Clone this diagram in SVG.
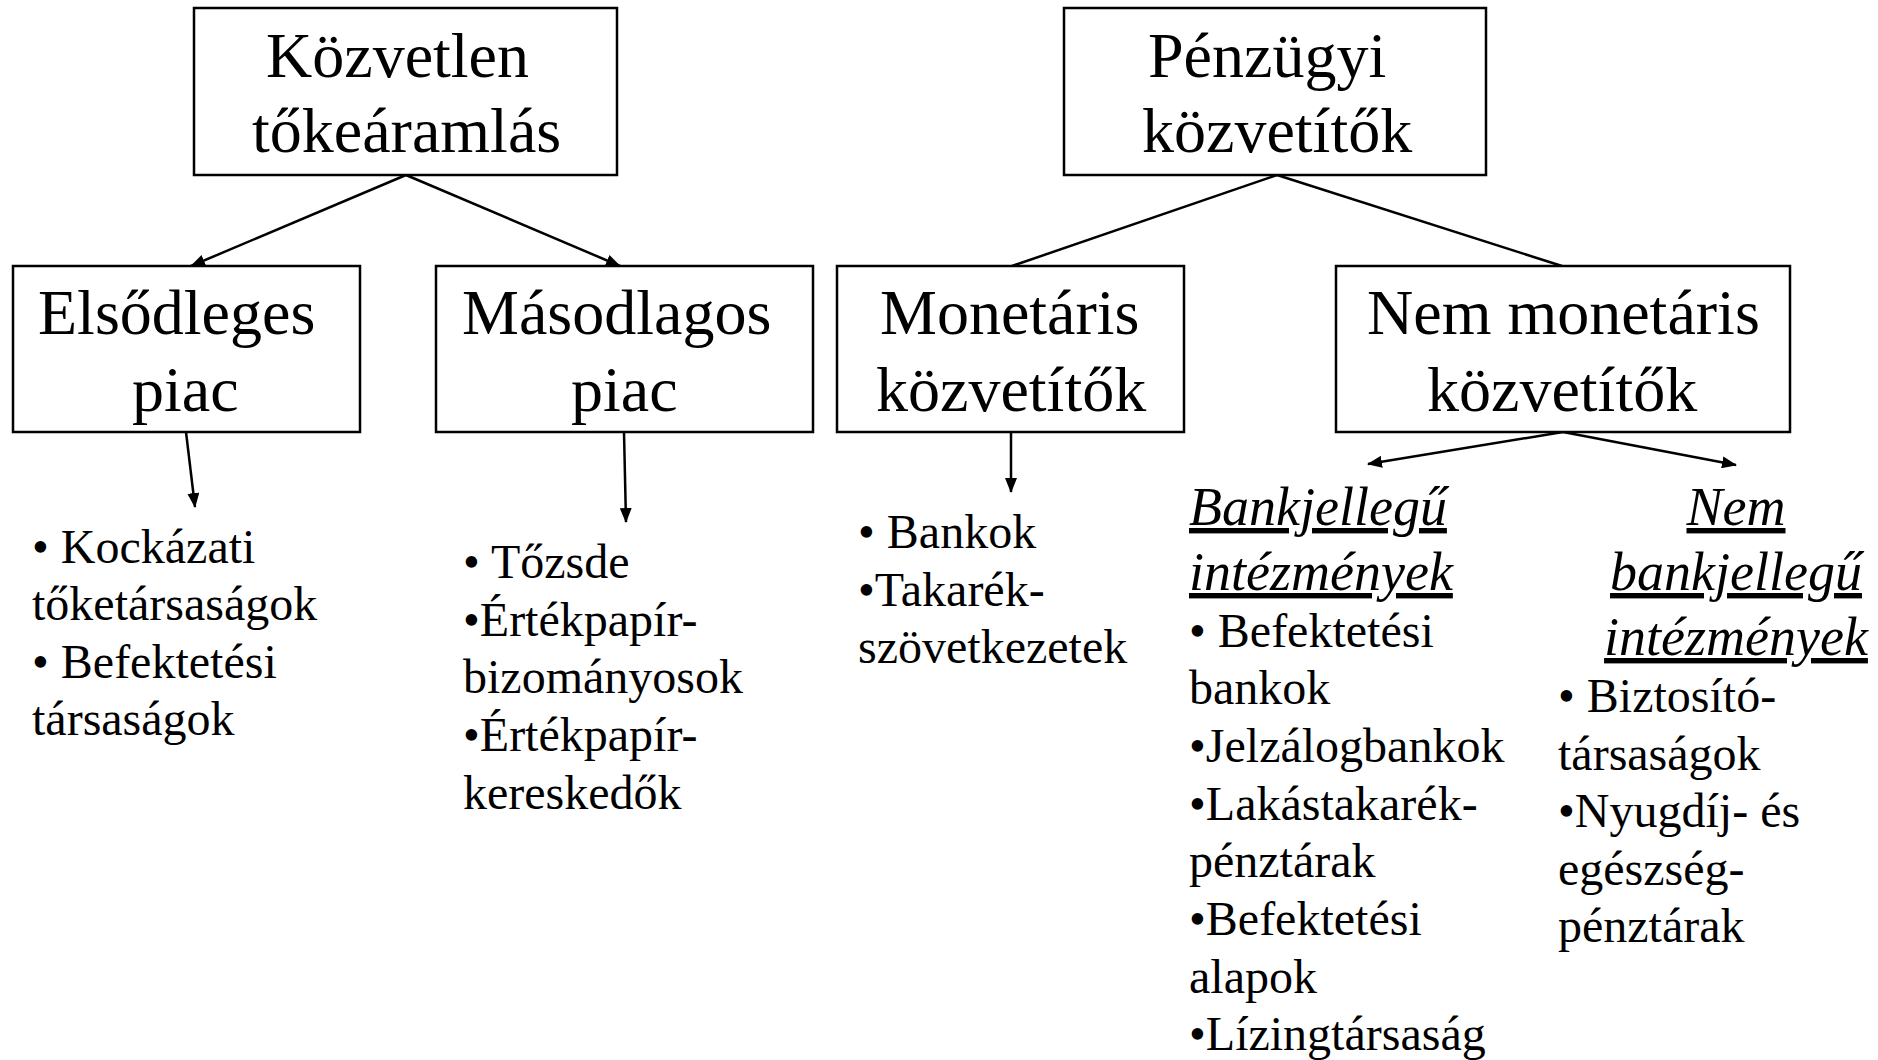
<svg xmlns="http://www.w3.org/2000/svg" width="1878" height="1060" viewBox="0 0 1878 1060">
<style>
.box{fill:#fff;stroke:#000;stroke-width:2.5}
.bt{font-family:"Liberation Serif","Times New Roman",serif;font-size:64px;fill:#000}
.li{font-family:"Liberation Serif","Times New Roman",serif;font-size:48px;fill:#000}
.hd{font-family:"Liberation Serif","Times New Roman",serif;font-size:54px;font-style:italic;text-decoration:underline;fill:#000}
.c{stroke:#000;stroke-width:2.5;fill:none}
</style>
<defs>
<marker id="ah" markerUnits="userSpaceOnUse" markerWidth="16" markerHeight="12" refX="14" refY="6" orient="auto">
<path d="M0,0 L15,6 L0,12 Z" fill="#000"/>
</marker>
</defs>
<rect width="1878" height="1060" fill="#fff"/>
<g id="connectors">
<line class="c" x1="406" y1="175" x2="191" y2="266" marker-end="url(#ah)"/>
<line class="c" x1="406" y1="175" x2="620" y2="266" marker-end="url(#ah)"/>
<line class="c" x1="1277" y1="175" x2="1012" y2="266"/>
<line class="c" x1="1277" y1="175" x2="1562" y2="266"/>
<line class="c" x1="186" y1="432" x2="195" y2="507" marker-end="url(#ah)"/>
<line class="c" x1="624" y1="432" x2="626" y2="522" marker-end="url(#ah)"/>
<line class="c" x1="1011" y1="432" x2="1011" y2="492" marker-end="url(#ah)"/>
<line class="c" x1="1563" y1="432" x2="1368" y2="464" marker-end="url(#ah)"/>
<line class="c" x1="1563" y1="432" x2="1736" y2="465" marker-end="url(#ah)"/>
</g>
<g id="kozvetlen">
<rect class="box" x="194" y="8" width="423" height="167"/>
<text class="bt" x="266" y="77">Közvetlen</text>
<text class="bt" x="252" y="152">tőkeáramlás</text>
</g>
<g id="penzugyi">
<rect class="box" x="1064" y="8" width="422" height="167"/>
<text class="bt" x="1148" y="77">Pénzügyi</text>
<text class="bt" x="1142" y="152">közvetítők</text>
</g>
<g id="elsodleges">
<rect class="box" x="13" y="266" width="347" height="166"/>
<text class="bt" x="38" y="334">Elsődleges</text>
<text class="bt" x="132" y="411">piac</text>
</g>
<g id="masodlagos">
<rect class="box" x="436" y="266" width="377" height="166"/>
<text class="bt" x="462" y="334">Másodlagos</text>
<text class="bt" x="571" y="411">piac</text>
</g>
<g id="monetaris">
<rect class="box" x="837" y="266" width="347" height="166"/>
<text class="bt" x="880" y="334">Monetáris</text>
<text class="bt" x="876" y="411">közvetítők</text>
</g>
<g id="nemmonetaris">
<rect class="box" x="1336" y="266" width="454" height="166"/>
<text class="bt" x="1367" y="334">Nem monetáris</text>
<text class="bt" x="1427" y="411">közvetítők</text>
</g>
<g id="elsodleges-lista">
<text class="li" x="32" y="563">• Kockázati</text>
<text class="li" x="32" y="620">tőketársaságok</text>
<text class="li" x="32" y="678">• Befektetési</text>
<text class="li" x="32" y="735">társaságok</text>
</g>
<g id="masodlagos-lista">
<text class="li" x="463" y="578">• Tőzsde</text>
<text class="li" x="463" y="636">•Értékpapír-</text>
<text class="li" x="463" y="693">bizományosok</text>
<text class="li" x="463" y="751">•Értékpapír-</text>
<text class="li" x="463" y="809">kereskedők</text>
</g>
<g id="monetaris-lista">
<text class="li" x="858" y="548">• Bankok</text>
<text class="li" x="858" y="606">•Takarék-</text>
<text class="li" x="858" y="663">szövetkezetek</text>
</g>
<g id="bankjellegu">
<text class="hd" x="1189" y="525">Bankjellegű</text>
<text class="hd" x="1189" y="590">intézmények</text>
<text class="li" x="1189" y="647">• Befektetési</text>
<text class="li" x="1189" y="704">bankok</text>
<text class="li" x="1189" y="762">•Jelzálogbankok</text>
<text class="li" x="1189" y="820">•Lakástakarék-</text>
<text class="li" x="1189" y="877">pénztárak</text>
<text class="li" x="1189" y="935">•Befektetési</text>
<text class="li" x="1189" y="993">alapok</text>
<text class="li" x="1189" y="1050">•Lízingtársaság</text>
</g>
<g id="nembankjellegu">
<text class="hd" x="1736" y="525" text-anchor="middle">Nem</text>
<text class="hd" x="1736" y="590" text-anchor="middle">bankjellegű</text>
<text class="hd" x="1736" y="655" text-anchor="middle">intézmények</text>
<text class="li" x="1558" y="712">• Biztosító-</text>
<text class="li" x="1558" y="770">társaságok</text>
<text class="li" x="1558" y="827">•Nyugdíj- és</text>
<text class="li" x="1558" y="885">egészség-</text>
<text class="li" x="1558" y="942">pénztárak</text>
</g>
</svg>
